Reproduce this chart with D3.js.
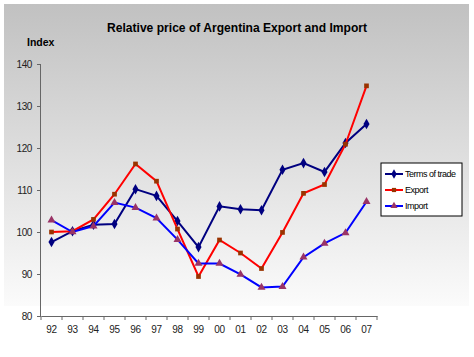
<!DOCTYPE html>
<html><head><meta charset="utf-8">
<script src="https://cdn.jsdelivr.net/npm/d3@7"></script>
<style>body{margin:0;background:#fff}svg{display:block;font-family:"Liberation Sans",Arial,sans-serif}</style>
</head><body><svg id="c" width="474" height="357"></svg>
<script>
const years = ["92","93","94","95","96","97","98","99","00","01","02","03","04","05","06","07"];
const termsOfTrade = [97.6,100.2,101.7,101.9,110.2,108.6,102.6,96.4,106.1,105.4,105.2,114.8,116.4,114.3,121.2,125.7];
const exportIdx = [100.0,100.2,103.0,109.0,116.2,112.1,100.7,89.4,98.1,95.0,91.3,99.9,109.2,111.3,120.9,134.8];
const importIdx = [102.8,100.0,101.4,107.0,105.8,103.3,98.2,92.5,92.5,89.9,86.8,87.0,94.0,97.3,99.8,107.2];
const yTicks = [80,90,100,110,120,130,140];
const seriesNames = ["Terms of trade","Export","Import"];

const svg = d3.select("#c");
const defs = svg.append("defs");
const g1 = defs.append("linearGradient").attr("id","bg").attr("x1",0).attr("y1",0).attr("x2",0).attr("y2",1);
g1.append("stop").attr("offset","0%").attr("stop-color","#c1c1c1");
g1.append("stop").attr("offset","100%").attr("stop-color","#fbfbfb");
svg.append("rect").attr("x",4).attr("y",4).attr("width",465).attr("height",302).attr("fill","url(#bg)");

const m = {l:41, r:377, t:64, b:316};
const x = d3.scaleBand().domain(years).range([m.l, m.r]);
const y = d3.scaleLinear().domain([80,140]).range([m.b, m.t]);

svg.append("text").attr("x",237).attr("y",32).attr("text-anchor","middle")
  .attr("font-size",13.5).attr("font-weight","bold").attr("fill","#000")
  .attr("textLength",260).attr("lengthAdjust","spacingAndGlyphs")
  .text("Relative price of Argentina Export and Import");
svg.append("text").attr("x",27).attr("y",46).attr("font-size",10.5).attr("font-weight","bold").attr("fill","#000").text("Index");

// y axis
const ya = svg.append("g").attr("transform",`translate(${m.l},0)`)
  .call(d3.axisLeft(y).tickValues(yTicks).tickSize(4).tickPadding(5));
ya.select(".domain").attr("stroke","#666").attr("d",`M-0.5,${m.t}V${m.b}`);
ya.selectAll("line").attr("stroke","#666");
ya.selectAll("text").attr("font-size",10).attr("fill","#222").attr("letter-spacing",-0.4).attr("font-family","Liberation Sans, Arial");

// x axis
const xa = svg.append("g").attr("transform",`translate(0,${m.b})`)
  .call(d3.axisBottom(x).tickSize(0).tickPadding(10));
xa.select(".domain").attr("stroke","#666");
xa.selectAll("text").attr("font-size",10).attr("fill","#222").attr("letter-spacing",-0.4).attr("font-family","Liberation Sans, Arial");
const bounds = years.map(d=>x(d)).concat([m.r]);
xa.selectAll("line.b").data(bounds).enter().append("line").attr("class","b")
  .attr("x1",d=>d).attr("x2",d=>d).attr("y1",0).attr("y2",4).attr("stroke","#666");

const series = [
  {name:seriesNames[0], vals:termsOfTrade, line:"#000080", mk:"#000080", sym:d3.symbolDiamond, size:32},
  {name:seriesNames[1], vals:exportIdx, line:"#ff0000", mk:"#993300", sym:d3.symbolSquare, size:22},
  {name:seriesNames[2], vals:importIdx, line:"#0000ff", mk:"#993366", sym:d3.symbolTriangle, size:28}
];
const line = d3.line().x((d,i)=>x(years[i])+x.bandwidth()/2).y(d=>y(d));
series.forEach(s=>{
  svg.append("path").attr("d",line(s.vals)).attr("fill","none").attr("stroke",s.line).attr("stroke-width",2);
  svg.selectAll(null).data(s.vals).enter().append("path")
    .attr("d",d3.symbol(s.sym,s.size))
    .attr("transform",(d,i)=>`translate(${x(years[i])+x.bandwidth()/2},${y(d)})`)
    .attr("fill",s.mk);
});

// legend
const lg = svg.append("g").attr("transform","translate(381,163)");
lg.append("rect").attr("x",0).attr("y",0).attr("width",81).attr("height",53).attr("fill","#fff").attr("stroke","#000").attr("stroke-width",1);
series.forEach((s,i)=>{
  const yy = 11 + i*16;
  lg.append("line").attr("x1",4).attr("x2",22).attr("y1",yy).attr("y2",yy).attr("stroke",s.line).attr("stroke-width",2);
  lg.append("path").attr("d",d3.symbol(s.sym,s.size*0.8)).attr("transform",`translate(13,${yy})`).attr("fill",s.mk);
  lg.append("text").attr("x",24).attr("y",yy+3).attr("font-size",9).attr("letter-spacing",-0.5).attr("fill","#000").text(s.name);
});
</script></body></html>
